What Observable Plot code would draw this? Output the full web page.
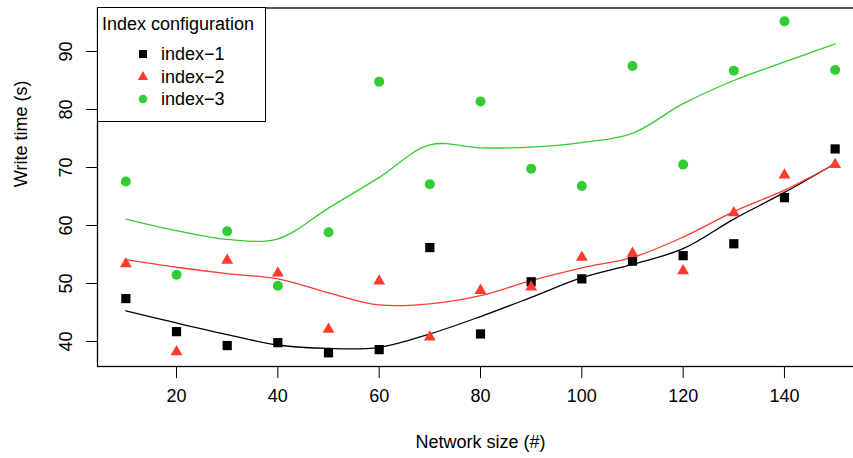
<!DOCTYPE html>
<html>
<head>
<meta charset="utf-8">
<script src="https://cdn.jsdelivr.net/npm/d3@7"></script>
<script src="https://cdn.jsdelivr.net/npm/@observablehq/plot@0.6"></script>
<style>
  body { margin: 0; background: #fff; }
  #wrap { position: relative; width: 853px; height: 458px; overflow: hidden;
          font-family: "Liberation Sans", Arial, Helvetica, sans-serif; }
  #chart { width: 870px; }
  #chart svg { max-width: none !important; display: block; }
  #legend { position: absolute; left: 97px; top: 7px; width: 169px; height: 115px;
            box-sizing: border-box; border: 1px solid #000; background: #fff; font-size: 18px; color: #000; }
  #legend .title { position: absolute; left: 4px; top: 5px; white-space: nowrap; line-height: 22px; }
  #legend .item { position: absolute; left: 36px; height: 22px; line-height: 22px; white-space: nowrap; }
  #legend .item svg { position: absolute; left: 0; top: 0; }
  #legend .item span { position: absolute; left: 27px; top: 0; }
</style>
</head>
<body>
<div id="wrap"><div id="chart"></div><div id="legend"></div></div>
<script>
// ---- data ----
const networkSize = [10, 20, 30, 40, 50, 60, 70, 80, 90, 100, 110, 120, 130, 140, 150];
const index1 = [47.4, 41.7, 39.3, 39.8, 38.05, 38.6, 56.2, 41.3, 50.3, 50.8, 53.85, 54.8, 56.85, 64.8, 73.2];
const index2 = [53.4, 38.2, 54.0, 51.8, 42.1, 50.4, 40.75, 48.8, 49.4, 54.5, 55.2, 52.2, 62.2, 68.7, 70.5];
const index3 = [67.6, 51.5, 59.0, 49.6, 58.85, 84.8, 67.1, 81.4, 69.8, 66.8, 87.5, 70.5, 86.7, 95.2, 86.8];
// smoothed (loess) curves
const smooth1 = [45.3, 43.2, 41.2, 39.4, 38.8, 39.0, 41.3, 44.3, 47.6, 51.0, 53.3, 56.0, 61.1, 65.7, 70.7];
const smooth2 = [54.1, 52.8, 51.7, 50.8, 48.4, 46.3, 46.5, 47.9, 50.5, 52.7, 54.5, 58.0, 62.4, 66.1, 70.6];
const smooth3 = [61.1, 59.1, 57.6, 57.7, 63.0, 68.3, 73.9, 73.4, 73.5, 74.3, 75.9, 81.0, 85.0, 88.2, 91.3];
const seriesNames = ["index\u22121", "index\u22122", "index\u22123"];
const seriesColors = ["#000000", "#ff3b30", "#32cd32"];
const seriesSymbols = ["square", "triangle", "circle"];
const xTicks = [20, 40, 60, 80, 100, 120, 140];
const yTicks = [40, 50, 60, 70, 80, 90];
const xLabel = "Network size (#)";
const yLabel = "Write time (s)";
const legendTitle = "Index configuration";

const pointValues = [index1, index2, index3];
const smoothValues = [smooth1, smooth2, smooth3];
const points = [], curves = [];
seriesNames.forEach((s, k) => {
  networkSize.forEach((x, i) => {
    points.push({series: s, x, y: pointValues[k][i]});
    curves.push({series: s, x, y: smoothValues[k][i]});
  });
});

const sizes = {square: 5.2, triangle: 4.4, circle: 5};

const chart = Plot.plot({
  width: 870, height: 458,
  marginLeft: 97, marginRight: 7, marginTop: 7.5, marginBottom: 92,
  style: {fontFamily: '"Liberation Sans", Arial, sans-serif', fontSize: "18px", background: "#fff", color: "#000", maxWidth: "none"},
  x: {domain: [4.4, 155.6]},
  y: {domain: [35.69, 97.5]},
  color: {domain: seriesNames, range: seriesColors},
  symbol: {domain: seriesNames, range: seriesSymbols},
  marks: [
    Plot.axisX({ticks: xTicks, tickSize: 12, tickPadding: 11, label: null, tickFormat: d => String(d)}),
    Plot.axisY({ticks: yTicks, tickSize: 11, tickPadding: 15, tickRotate: -90, label: null, tickFormat: d => String(d)}),
    Plot.line(curves, {x: "x", y: "y", z: "series", stroke: "series", strokeWidth: 1.3, curve: "catmull-rom"}),
    ...seriesNames.map((s, k) =>
      Plot.dot(points.filter(d => d.series === s), {x: "x", y: "y", symbol: "series", fill: "series", stroke: "none", r: sizes[seriesSymbols[k]]})
    ),
    Plot.frame({stroke: "#000", strokeWidth: 1.3}),
    Plot.text([xLabel], {text: d => d, frameAnchor: "bottom", dy: 76, fontSize: 18, lineAnchor: "middle"}),
    Plot.text([yLabel], {text: d => d, frameAnchor: "left", dx: -76, rotate: -90, fontSize: 18, lineAnchor: "middle"})
  ]
});
document.getElementById("chart").appendChild(chart);

// legend
const legend = document.getElementById("legend");
const t = document.createElement("div");
t.className = "title"; t.textContent = legendTitle; legend.appendChild(t);
const symPaths = {
  square: d3.symbol(d3.symbolSquare, Math.PI * sizes.square * sizes.square * 0.75)(),
  triangle: d3.symbol(d3.symbolTriangle, Math.PI * sizes.triangle * sizes.triangle * 0.75)(),
  circle: d3.symbol(d3.symbolCircle, Math.PI * sizes.circle * sizes.circle * 0.75)()
};
seriesNames.forEach((s, k) => {
  const it = document.createElement("div");
  it.className = "item";
  it.style.top = (35 + k * 22.7) + "px";
  it.innerHTML = `<svg width="16" height="22"><path transform="translate(9,11)" d="${symPaths[seriesSymbols[k]]}" fill="${seriesColors[k]}"/></svg><span>${s}</span>`;
  legend.appendChild(it);
});
</script>
</body>
</html>
